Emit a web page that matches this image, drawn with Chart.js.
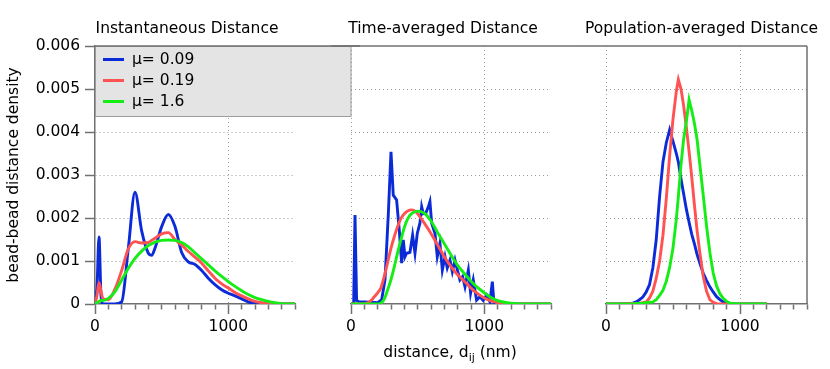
<!DOCTYPE html>
<html>
<head>
<meta charset="utf-8">
<script src="https://cdn.jsdelivr.net/npm/chart.js@4/dist/chart.umd.min.js"></script>
<style>
html, body { margin: 0; padding: 0; background: #fff; }
#wrap { position: relative; width: 830px; height: 369px; overflow: hidden; }
.pane { position: absolute; top: 0; height: 369px; }
</style>
</head>
<body>
<div id="wrap">
  <div class="pane" style="left:0;width:360px"><canvas id="c1"></canvas></div>
  <div class="pane" style="left:331px;width:250px"><canvas id="c2"></canvas></div>
  <div class="pane" style="left:581px;width:249px"><canvas id="c3"></canvas></div>
</div>
<script>
// density values are in units of 0.001
var seriesLabels = ['μ= 0.09', 'μ= 0.19', 'μ= 1.6'];
var seriesColors = ['#0c2bd8', '#ff5252', '#16ec16'];
var panelTitles = ['Instantaneous Distance', 'Time-averaged Distance', 'Population-averaged Distance'];
var yTicks = [0, 1, 2, 3, 4, 5, 6];
var yTickLabels = ['0', '0.001', '0.002', '0.003', '0.004', '0.005', '0.006'];
var xLabelled = [0, 1000];
var xMax = 1500;

// Instantaneous Distance
var instX     = [0, 15, 30, 45, 60, 100, 150, 200, 250, 300, 350, 400, 425, 450, 500, 550, 600, 650, 700, 750, 800, 850, 900, 950, 1000, 1050, 1100, 1150, 1200, 1250, 1300, 1350, 1400, 1450, 1500];
var instBlue  = [0, 0.4, 1.56, 0.2, 0, 0, 0, 0.05, 1.3, 2.6, 1.7, 1.18, 1.13, 1.3, 1.8, 2.08, 1.8, 1.2, 0.98, 0.92, 0.78, 0.6, 0.45, 0.33, 0.25, 0.19, 0.12, 0.05, 0.01, 0, 0, 0, 0, 0, 0];
var instRed   = [0, 0.2, 0.5, 0.3, 0.12, 0.1, 0.35, 0.78, 1.28, 1.45, 1.42, 1.43, 1.48, 1.53, 1.63, 1.66, 1.5, 1.37, 1.22, 1.09, 0.95, 0.77, 0.6, 0.47, 0.37, 0.27, 0.19, 0.12, 0.06, 0.03, 0.01, 0, 0, 0, 0];
var instGreen = [0, 0.03, 0.06, 0.08, 0.08, 0.13, 0.29, 0.56, 0.83, 1.06, 1.23, 1.36, 1.4, 1.44, 1.48, 1.49, 1.48, 1.43, 1.33, 1.19, 1.05, 0.91, 0.77, 0.64, 0.52, 0.41, 0.31, 0.22, 0.15, 0.1, 0.06, 0.03, 0.01, 0, 0];

// Time-averaged Distance
var timeBlueX = [0, 20, 30, 42, 60, 100, 150, 200, 230, 255, 280, 300, 317, 342, 362, 380, 392, 405, 417, 442, 462, 480, 497, 517, 530, 542, 562, 580, 592, 605, 630, 647, 667, 685, 705, 722, 742, 760, 780, 797, 817, 837, 855, 880, 897, 917, 942, 967, 992, 1017, 1042, 1060, 1072, 1092, 1200, 1500];
var timeBlue  = [0, 0, 2.07, 0.08, 0.05, 0.05, 0.04, 0.03, 0.1, 0.56, 2.1, 3.54, 2.53, 2.42, 1.72, 0.95, 1.49, 1.1, 1.18, 1.2, 1.6, 1.18, 1.64, 1.88, 2.26, 2.1, 2.12, 2.26, 2.38, 1.88, 1.64, 1.1, 1.41, 0.79, 1.1, 0.84, 1.02, 0.75, 1.02, 0.8, 0.56, 0.64, 0.4, 0.79, 0.25, 0.56, 0.09, 0.17, 0.08, 0.21, 0.05, 0.52, 0.03, 0, 0, 0];
var timeX     = [0, 100, 125, 150, 175, 200, 225, 250, 275, 300, 325, 350, 375, 400, 425, 450, 475, 500, 550, 600, 650, 700, 750, 800, 850, 900, 950, 1000, 1050, 1100, 1150, 1200, 1300, 1400, 1500];
var timeRed   = [0, 0.01, 0.03, 0.08, 0.17, 0.26, 0.38, 0.65, 0.97, 1.3, 1.57, 1.8, 1.99, 2.1, 2.16, 2.19, 2.17, 2.1, 1.88, 1.64, 1.37, 1.1, 0.87, 0.68, 0.53, 0.37, 0.24, 0.14, 0.07, 0.03, 0.01, 0, 0, 0, 0];
var timeGreen = [0, 0, 0, 0, 0, 0, 0.02, 0.12, 0.33, 0.57, 0.87, 1.2, 1.5, 1.78, 1.98, 2.09, 2.14, 2.16, 2.11, 1.93, 1.66, 1.4, 1.14, 0.9, 0.71, 0.53, 0.38, 0.26, 0.15, 0.08, 0.04, 0.02, 0, 0, 0];

// Population-averaged Distance
var popX     = [0, 100, 200, 225, 250, 275, 300, 325, 350, 375, 400, 425, 450, 475, 500, 525, 540, 560, 580, 600, 620, 640, 660, 680, 700, 725, 750, 775, 800, 825, 850, 875, 900, 925, 950, 1000, 1100, 1200];
var popBlue  = [0, 0, 0.02, 0.05, 0.1, 0.16, 0.28, 0.45, 0.85, 1.5, 2.5, 3.3, 3.75, 4.05, 3.78, 3.5, 3.3, 2.9, 2.55, 2.2, 1.9, 1.62, 1.4, 1.15, 0.95, 0.72, 0.55, 0.4, 0.28, 0.17, 0.1, 0.05, 0.02, 0.01, 0, 0, 0, 0];
var popRed   = [0, 0, 0.01, 0.01, 0.02, 0.03, 0.05, 0.14, 0.3, 0.6, 1.0, 1.6, 2.45, 3.45, 4.3, 4.95, 5.22, 5.0, 4.6, 4.1, 3.55, 2.95, 2.3, 1.7, 1.2, 0.65, 0.3, 0.1, 0.04, 0.01, 0, 0, 0, 0, 0, 0, 0, 0];
var popGreen = [0, 0, 0, 0.01, 0.01, 0.02, 0.03, 0.04, 0.05, 0.1, 0.2, 0.32, 0.53, 0.85, 1.3, 1.98, 2.5, 3.25, 3.85, 4.25, 4.75, 4.5, 4.2, 3.82, 3.25, 2.55, 1.82, 1.2, 0.72, 0.42, 0.24, 0.13, 0.06, 0.02, 0.01, 0, 0, 0];

var FONT = 'DejaVu Sans';
var FSIZE = 15.5;
var axisColor = '#707070';
var gridColor = '#9a9a9a';
Chart.defaults.font.family = FONT;
Chart.defaults.font.size = FSIZE;
Chart.defaults.color = '#000';

function pts(xs, ys) {
	return xs.map(function(x, i){ return {x: x, y: ys[i]}; });
}

function line(i, xs, ys, smooth) {
	return {
		label: seriesLabels[i],
		data: pts(xs, ys),
		borderColor: seriesColors[i],
		backgroundColor: seriesColors[i],
		borderWidth: 2.9,
		pointRadius: 0,
		fill: false,
		tension: 0,
		cubicInterpolationMode: smooth ? 'monotone' : 'default',
		order: 3 - i
	};
}

// top frame line (and right edge on the last panel)
var framePlugin = {
	id: 'frame',
	afterDraw: function(chart, args, opts){
		var a = chart.chartArea, ctx = chart.ctx;
		ctx.save();
		ctx.strokeStyle = axisColor;
		ctx.lineWidth = 1.5;
		ctx.beginPath();
		ctx.moveTo(opts.fromZero ? 0 : a.left, a.top);
		ctx.lineTo(opts.toArea ? a.right : chart.width, a.top);
		if (opts.rightEdge) {
			ctx.moveTo(a.right, a.top);
			ctx.lineTo(a.right, a.bottom);
		}
		ctx.stroke();
		ctx.restore();
	}
};

// move the panel title a little left of the panel centre
var titleShift = {
	id: 'titleShift',
	afterLayout: function(chart, args, opts){
		var t = chart.titleBlock;
		if (!t) return;
		var cx = (chart.chartArea.left + chart.chartArea.right) / 2 + (opts.dx || 0);
		t.left = cx - 150;
		t.right = cx + 150;
		t.top += 1;
		t.bottom += 1;
	}
};

// grey legend box as in the original plot
var boxLegend = {
	id: 'boxLegend',
	afterDraw: function(chart){
		var a = chart.chartArea, ctx = chart.ctx;
		ctx.save();
		ctx.fillStyle = '#e4e4e4';
		ctx.strokeStyle = '#9c9c9c';
		ctx.lineWidth = 1;
		ctx.fillRect(a.left, a.top, 256, 70.5);
		ctx.strokeRect(a.left + 0.5, a.top + 0.5, 255.5, 70);
		ctx.font = FSIZE + 'px "' + FONT + '"';
		ctx.textBaseline = 'middle';
		ctx.fillStyle = '#000';
		chart.data.datasets.forEach(function(ds, i){
			var y = a.top + 13.5 + i * 21;
			ctx.strokeStyle = ds.borderColor;
			ctx.lineWidth = 3;
			ctx.beginPath();
			ctx.moveTo(a.left + 8, y);
			ctx.lineTo(a.left + 29, y);
			ctx.stroke();
			ctx.fillText(ds.label, a.left + 37, y);
		});
		ctx.restore();
	}
};

// x axis title with subscript
var xTitle = {
	id: 'xTitle',
	afterDraw: function(chart){
		var a = chart.chartArea, ctx = chart.ctx;
		var p1 = 'distance, d', p2 = 'ij', p3 = ' (nm)';
		ctx.save();
		ctx.fillStyle = '#000';
		ctx.textBaseline = 'alphabetic';
		ctx.font = FSIZE + 'px "' + FONT + '"';
		var w1 = ctx.measureText(p1).width, w3 = ctx.measureText(p3).width;
		ctx.font = '11px "' + FONT + '"';
		var w2 = ctx.measureText(p2).width;
		var x = (a.left + a.right) / 2 - 1 - (w1 + w2 + w3) / 2;
		var y = 357;
		ctx.font = FSIZE + 'px "' + FONT + '"';
		ctx.fillText(p1, x, y);
		ctx.font = '11px "' + FONT + '"';
		ctx.fillText(p2, x + w1, y + 4);
		ctx.font = FSIZE + 'px "' + FONT + '"';
		ctx.fillText(p3, x + w1 + w2, y);
		ctx.restore();
	}
};

function xAxis(dottedZero) {
	return {
		type: 'linear', min: 0, max: xMax,
		afterFit: function(s){ s.height = 65; },
		ticks: {
			stepSize: 100, autoSkip: false, maxRotation: 0, padding: 4,
			callback: function(v){ return xLabelled.indexOf(v) >= 0 ? String(v) : ''; }
		},
		grid: {
			color: function(c){
				var v = c.tick && c.tick.value;
				return (v === 1000 || (dottedZero && v === 0)) ? gridColor : 'rgba(0,0,0,0)';
			},
			tickLength: 10, tickColor: axisColor, tickWidth: 1.5,
			tickBorderDash: function(c){ return xLabelled.indexOf(c.tick.value) >= 0 ? [] : [5, 20]; }
		},
		border: { color: axisColor, width: 1.5, dash: [1, 3] }
	};
}

function yGridColor(c) {
	var v = c.tick && c.tick.value;
	return (Number.isInteger(v) && v > 0 && v < 6) ? gridColor : 'rgba(0,0,0,0)';
}

function yAxisMain() {
	return {
		min: 0, max: 6,
		afterFit: function(s){ s.width = 95; },
		ticks: {
			stepSize: 0.5, padding: 5,
			callback: function(v){ var i = yTicks.indexOf(v); return i >= 0 ? yTickLabels[i] : ''; }
		},
		grid: {
			color: yGridColor, tickLength: 10, tickColor: axisColor, tickWidth: 1.5,
			tickBorderDash: function(c){ return Number.isInteger(c.tick.value) ? [] : [5, 5]; },
			tickBorderDashOffset: function(c){ return Number.isInteger(c.tick.value) ? 0 : 5; }
		},
		border: { color: axisColor, width: 1.5, dash: [1, 3] },
		title: { display: true, text: 'bead-bead distance density', padding: { top: 5, bottom: 0 } }
	};
}

function yAxisPlain() {
	return {
		min: 0, max: 6,
		afterFit: function(s){ s.width = 0; },
		ticks: { display: false, stepSize: 1 },
		grid: { color: yGridColor, drawTicks: false },
		border: { display: false, dash: [1, 3] }
	};
}

function makeChart(id, n, datasets, yAxis, pad, extra, plugins) {
	return new Chart(document.getElementById(id), {
		type: 'line',
		data: { datasets: datasets },
		options: {
			animation: false,
			responsive: true,
			maintainAspectRatio: false,
			layout: { padding: pad },
			scales: { x: xAxis(n > 0), y: yAxis },
			plugins: {
				legend: { display: false },
				tooltip: { enabled: false },
				title: {
					display: true, text: panelTitles[n], fullSize: false, align: 'center',
					color: '#000', font: { size: FSIZE, weight: 'normal' },
					padding: { top: 18.7, bottom: 8.7 }
				},
				titleShift: { dx: extra.dx },
				frame: extra.frame
			}
		},
		plugins: plugins
	});
}

makeChart('c1', 0, [
	line(0, instX, instBlue, true),
	line(1, instX, instRed, true),
	line(2, instX, instGreen, true)
], yAxisMain(), { left: 0, right: 65, top: 0, bottom: 0 },
	{ dx: -8, frame: {} }, [titleShift, boxLegend, framePlugin]);

makeChart('c2', 1, [
	line(0, timeBlueX, timeBlue, false),
	line(1, timeX, timeRed, true),
	line(2, timeX, timeGreen, true)
], yAxisPlain(), { left: 20, right: 30, top: 0, bottom: 0 },
	{ dx: -8, frame: { fromZero: true } }, [titleShift, framePlugin, xTitle]);

makeChart('c3', 2, [
	line(0, popX, popBlue, false),
	line(1, popX, popRed, false),
	line(2, popX, popGreen, false)
], yAxisPlain(), { left: 25, right: 23, top: 0, bottom: 0 },
	{ dx: -5, frame: { fromZero: true, toArea: true, rightEdge: true } }, [titleShift, framePlugin]);
</script>
</body>
</html>
